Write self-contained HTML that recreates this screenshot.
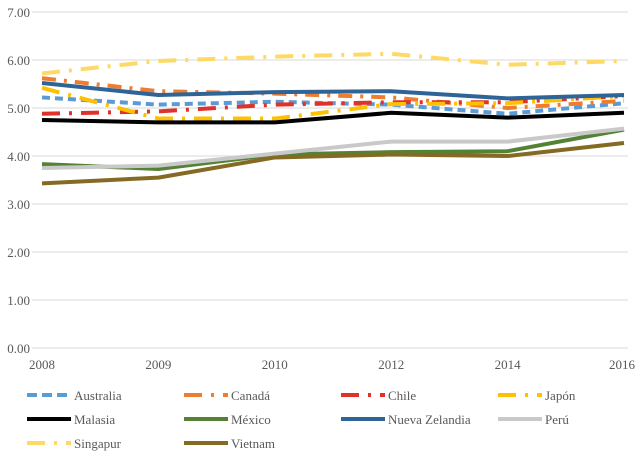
<!DOCTYPE html>
<html><head><meta charset="utf-8"><style>
body{margin:0;background:#fff;}
svg text{font-family:"Liberation Serif",serif;fill:#595959;}
</style></head><body>
<svg width="640" height="451">
<g id="grid"></g><g id="series"></g><g id="legend"></g>
</svg>
<script>
const categories=["2008","2009","2010","2012","2014","2016"];
const yTicks=[0,1,2,3,4,5,6,7];
const names=["Australia","Canadá","Chile","Japón","Malasia","México","Nueva Zelandia","Perú","Singapur","Vietnam"];
const australia=[5.22,5.07,5.13,5.07,4.88,5.10];
const canada=[5.62,5.35,5.30,5.22,5.00,5.15];
const chile=[4.88,4.93,5.07,5.12,5.12,5.25];
const japon=[5.42,4.78,4.78,5.08,5.10,5.25];
const malasia=[4.75,4.70,4.70,4.90,4.80,4.90];
const mexico=[3.83,3.73,4.03,4.08,4.10,4.55];
const nz=[5.52,5.27,5.33,5.35,5.20,5.27];
const peru=[3.75,3.80,4.05,4.30,4.30,4.57];
const singapur=[5.72,5.98,6.07,6.13,5.90,5.98];
const vietnam=[3.43,3.55,3.97,4.03,4.00,4.27];
const seriesData=[australia,canada,chile,japon,malasia,mexico,nz,peru,singapur,vietnam];
const colors=["#5b9bd5","#ed7d31","#e0312b","#ffc000","#000000","#548235","#2e6496","#c9c9c9","#ffd966","#846a23"];
const dashes=["8,5","14,8,3,8","18,9,3,9","18,9,3,9","","","","","18,9,3,9",""];
const NS="http://www.w3.org/2000/svg";
const X=i=>42+i*116.4, Y=v=>348-v*48;
function mk(t,a,p){const e=document.createElementNS(NS,t);for(const k in a)e.setAttribute(k,a[k]);p.appendChild(e);return e;}
const g=document.getElementById('grid');
yTicks.forEach(v=>{
 const l=mk('line',{x1:32,x2:628,y1:Y(v),y2:Y(v),stroke:'#d9d9d9','stroke-width':1},g);
 
 
 const t=mk('text',{x:30,y:Y(v)+5,'text-anchor':'end','font-size':13},g);t.textContent=v.toFixed(2);
 
 
});
categories.forEach((c,i)=>{
 const t=mk('text',{x:i==0?42:i==5?622:X(i),y:369,'text-anchor':'middle','font-size':13},g);t.textContent=c;
 
 
});
const s=document.getElementById('series');
seriesData.forEach((d,k)=>{
 const p=mk('polyline',{points:d.map((v,i)=>X(i)+','+Y(v)).join(' '),fill:'none',stroke:colors[k],'stroke-width':4,'stroke-linejoin':'round'},s);
 if(dashes[k])p.setAttribute('stroke-dasharray',dashes[k]);
 
 
});
const lg=document.getElementById('legend');
names.forEach((n,k)=>{
 const col=k%4,row=Math.floor(k/4);
 const x=27+col*157,y=395+row*24;
 const e=mk('g',{},lg);
 
 
 const l=mk('line',{x1:x,x2:x+44,y1:y,y2:y,stroke:colors[k],'stroke-width':4},e);
 if(dashes[k])l.setAttribute('stroke-dasharray',k==0?'10,5':'18,9,3,9');
 const t=mk('text',{x:x+47,y:y+5,'font-size':13},e);t.textContent=n;
});
</script>
</body></html>
